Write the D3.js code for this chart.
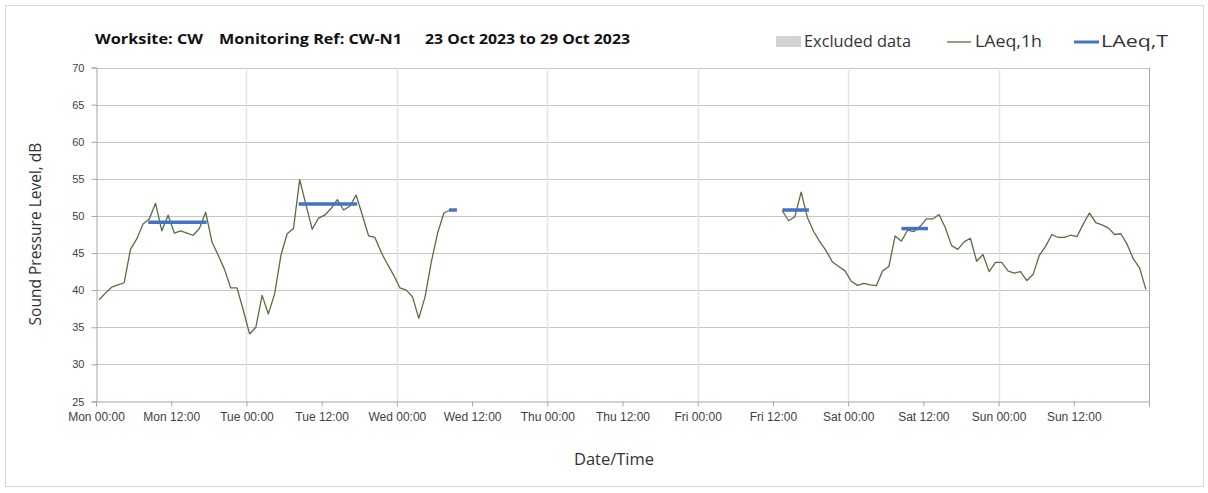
<!DOCTYPE html>
<html><head><meta charset="utf-8">
<script src="https://cdn.jsdelivr.net/npm/d3@7"></script>
<style>body{margin:0;background:#fff;} svg{display:block;font-family:"Open Sans","Noto Sans",sans-serif;}</style>
</head><body>
<script>
// ---- data ----
const yTicks = [25,30,35,40,45,50,55,60,65,70];
const xStart = "2023-10-23T00:00";
const xEnd = "2023-10-30T00:00";
// LAeq,1h hourly values (plotted at mid-hour)
const seg1Start = "2023-10-23T00:30";
const seg1Values = [38.7,39.6,40.4,40.7,41.0,45.5,46.9,48.9,49.6,51.7,48.0,50.1,47.7,48.0,47.7,47.4,48.3,50.5,46.5,44.7,42.8,40.3,40.3,37.3,34.1,35.0,39.3,36.8,39.5,44.7,47.6,48.3,54.9,51.5,48.2,49.7,50.1,51.0,52.2,50.8,51.3,52.8,50.1,47.3,47.1,45.1,43.5,42.0,40.3,40.0,39.1,36.2,39.1,43.8,47.7,50.4,50.8];
const seg2Start = "2023-10-27T13:30";
const seg2Values = [50.7,49.35,49.9,53.2,49.8,47.9,46.5,45.3,43.8,43.2,42.6,41.2,40.65,40.9,40.7,40.6,42.6,43.2,47.3,46.6,48.1,47.9,48.6,49.6,49.6,50.2,48.4,46.0,45.5,46.5,47.0,43.9,44.8,42.5,43.75,43.75,42.6,42.3,42.5,41.3,42.1,44.7,45.9,47.5,47.1,47.1,47.4,47.2,48.9,50.4,49.1,48.8,48.4,47.5,47.6,46.2,44.2,43.0,40.1];
// LAeq,T periods
const periodStarts = ["2023-10-23T08:20","2023-10-24T08:20","2023-10-25T08:20","2023-10-27T13:30","2023-10-28T08:30"];
const periodEnds   = ["2023-10-23T17:40","2023-10-24T17:40","2023-10-25T09:35","2023-10-27T17:45","2023-10-28T12:45"];
const periodValues = [49.15,51.6,50.8,50.8,48.3];
const titleParts = ["Worksite: CW","Monitoring Ref: CW-N1","23 Oct 2023 to 29 Oct 2023"];

const W=1208,H=493;
const parse = s => new Date(s);
const svg = d3.select("body").append("svg").attr("width",W).attr("height",H);

svg.append("rect").attr("x",5.5).attr("y",5.5).attr("width",1198).attr("height",481)
  .attr("fill","#fff").attr("stroke","#d9d9d9");

const x = d3.scaleTime().domain([parse(xStart),parse(xEnd)]).range([96,1149]);
const y = d3.scaleLinear().domain([25,70]).range([401.5,67.5]);

// horizontal grid
svg.append("g").selectAll("line").data(yTicks.slice(1)).join("line")
  .attr("x1",96).attr("x2",1149).attr("y1",d=>Math.round(y(d))+0.5).attr("y2",d=>Math.round(y(d))+0.5)
  .attr("stroke","#c6c6c6").attr("stroke-width",1);
// vertical day grid
const days = d3.timeDay.range(d3.timeDay.offset(parse(xStart),1), parse(xEnd));
svg.append("g").selectAll("line").data(days).join("line")
  .attr("x1",d=>Math.round(x(d))+0.5).attr("x2",d=>Math.round(x(d))+0.5).attr("y1",67.5).attr("y2",401.5)
  .attr("stroke","#e3e3e3").attr("stroke-width",1.5);

// y axis
const yAx = svg.append("g").attr("transform","translate(96.5,0)")
  .call(d3.axisLeft(y).tickValues(yTicks).tickSize(5).tickPadding(7));
yAx.select(".domain").attr("stroke","#a6a6a6");
yAx.selectAll(".tick line").attr("stroke","#a6a6a6");
yAx.selectAll("text").attr("fill","#404040").style("font-size","11px");
// right edge
svg.append("line").attr("x1",1149.5).attr("x2",1149.5).attr("y1",67.5).attr("y2",401.5).attr("stroke","#a6a6a6");

// x axis
const xTicks = d3.timeHour.every(12).range(parse(xStart), parse(xEnd));
const xAx = svg.append("g").attr("transform","translate(0,401.5)")
  .call(d3.axisBottom(x).tickValues(xTicks).tickFormat(d3.timeFormat("%a %H:%M")).tickSize(5).tickPadding(6));
xAx.select(".domain").attr("stroke","#a6a6a6");
xAx.selectAll(".tick line").attr("stroke","#a6a6a6");
xAx.selectAll("text").attr("fill","#404040").style("font-size","12px");
svg.append("line").attr("x1",1149.5).attr("x2",1149.5).attr("y1",401.5).attr("y2",406.5).attr("stroke","#a6a6a6");

// LAeq,1h lines
function seg(start, vals){
  const t0 = parse(start);
  return vals.map((v,i)=>({t:d3.timeHour.offset(t0,i), v}));
}
const line = d3.line().x(d=>x(d.t)).y(d=>y(d.v));
[seg(seg1Start,seg1Values), seg(seg2Start,seg2Values)].forEach(s=>{
  svg.append("path").datum(s).attr("d",line).attr("fill","none")
    .attr("stroke","#55703c").attr("stroke-width",1.3).attr("stroke-linejoin","round");
});

// LAeq,T
svg.append("g").selectAll("line").data(periodValues).join("line")
  .attr("x1",(d,i)=>x(parse(periodStarts[i]))).attr("x2",(d,i)=>x(parse(periodEnds[i])))
  .attr("y1",d=>y(d)).attr("y2",d=>y(d))
  .attr("stroke","#4472c4").attr("stroke-width",3.5);

// title
const tX=[95,219,425], tL=[108,183,205];
svg.append("g").selectAll("text").data(titleParts).join("text")
  .attr("x",(d,i)=>tX[i]).attr("y",44).attr("font-weight","bold").style("font-size","15px").attr("fill","#111")
  .attr("textLength",(d,i)=>tL[i]).attr("lengthAdjust","spacingAndGlyphs")
  .text(d=>d);

// legend
const lg = svg.append("g").style("font-size","16px").attr("fill","#333");
lg.append("rect").attr("x",776).attr("y",36).attr("width",25).attr("height",11).attr("fill","#d3d3d3");
lg.append("text").attr("x",804).attr("y",47).attr("textLength",107).attr("lengthAdjust","spacingAndGlyphs").text("Excluded data");
lg.append("line").attr("x1",947).attr("x2",971).attr("y1",42).attr("y2",42).attr("stroke","#55703c").attr("stroke-width",1.3);
lg.append("text").attr("x",975).attr("y",47).attr("textLength",67).attr("lengthAdjust","spacingAndGlyphs").text("LAeq,1h");
lg.append("line").attr("x1",1074).attr("x2",1099).attr("y1",42).attr("y2",42).attr("stroke","#4472c4").attr("stroke-width",3);
lg.append("text").attr("x",1101).attr("y",47).attr("textLength",67).attr("lengthAdjust","spacingAndGlyphs").text("LAeq,T");

// axis titles
svg.append("text").attr("transform","translate(41,234) rotate(-90)").attr("text-anchor","middle")
  .style("font-size","15.5px").attr("fill","#333").text("Sound Pressure Level, dB");
svg.append("text").attr("x",614).attr("y",465).attr("text-anchor","middle")
  .style("font-size","16.5px").attr("fill","#333").text("Date/Time");
</script>
</body></html>
